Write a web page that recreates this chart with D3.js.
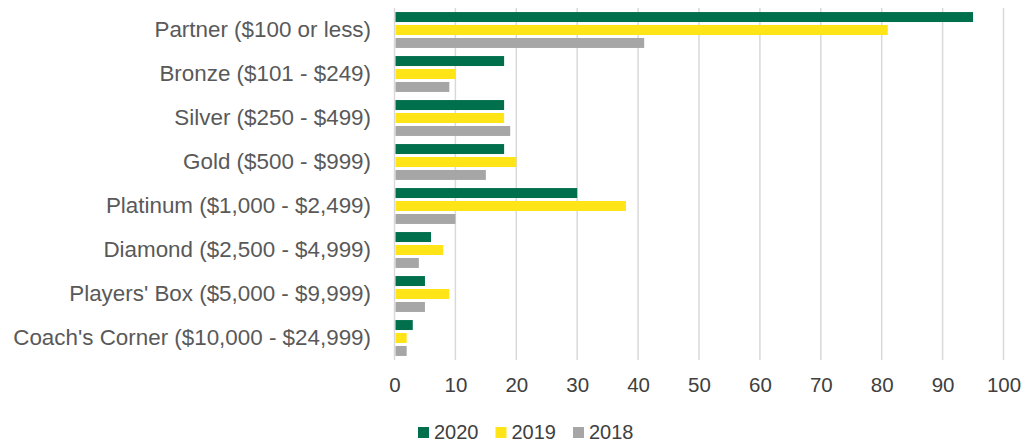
<!DOCTYPE html>
<html>
<head>
<meta charset="utf-8">
<script src="https://cdn.jsdelivr.net/npm/d3@7"></script>
<style>
    body { margin: 0; background: #fff; }
    svg { display: block; font-family: "Liberation Sans", Arial, sans-serif; }
</style>
</head>
<body>
<svg></svg>
<script>
const width = 1031;
const height = 442;

const categories = [
    'Partner ($100 or less)',
    'Bronze ($101 - $249)',
    'Silver ($250 - $499)',
    'Gold ($500 - $999)',
    'Platinum ($1,000 - $2,499)',
    'Diamond ($2,500 - $4,999)',
    "Players' Box ($5,000 - $9,999)",
    "Coach's Corner ($10,000 - $24,999)"
];
const years = ['2020', '2019', '2018'];
const values2020 = [95, 18, 18, 18, 30, 6, 5, 3];
const values2019 = [81, 10, 18, 20, 38, 8, 9, 2];
const values2018 = [41, 9, 19, 15, 10, 4, 5, 2];
const xTicks = [0, 10, 20, 30, 40, 50, 60, 70, 80, 90, 100];
const colors = ['#00704c', '#ffe417', '#a6a6a6'];

let svg = d3.select('svg')
    .attr('width', width)
    .attr('height', height);

let xScale = d3.scaleLinear().domain([0, 100]).range([394.5, 1003.5]);
let yScale = d3.scaleBand().domain(categories).range([8, 360]).paddingInner(0.116).paddingOuter(0.058);
let groupScale = d3.scaleBand().domain(years).range([0, yScale.bandwidth()]);
let colorScale = d3.scaleOrdinal().domain(years).range(colors);

let rows = categories.map((c, i) => ({
    category: c,
    values: [values2020[i], values2019[i], values2018[i]].map((v, j) => ({ year: years[j], value: v }))
}));

// gridlines
svg.append('g')
    .selectAll('line')
    .data(xTicks)
    .enter()
    .append('line')
    .attr('x1', d => xScale(d))
    .attr('x2', d => xScale(d))
    .attr('y1', 8)
    .attr('y2', 360)
    .attr('stroke', '#d9d9d9')
    .attr('stroke-width', 1.5);

// bars
svg.append('g')
    .selectAll('g')
    .data(rows)
    .enter()
    .append('g')
    .attr('transform', d => 'translate(0,' + yScale(d.category) + ')')
    .selectAll('rect')
    .data(d => d.values)
    .enter()
    .append('rect')
    .attr('x', xScale(0) + 1)
    .attr('y', d => groupScale(d.year) + 1.5)
    .attr('width', d => xScale(d.value) - xScale(0) - 1)
    .attr('height', groupScale.bandwidth() - 3)
    .attr('fill', d => colorScale(d.year));

// category axis
let yAxis = d3.axisLeft(yScale).tickSize(0).tickPadding(0);
svg.append('g')
    .attr('transform', 'translate(371,0)')
    .call(yAxis)
    .call(g => g.select('.domain').remove())
    .selectAll('text')
    .attr('font-size', 22.4)
    .attr('font-family', '"Liberation Sans", Arial, sans-serif')
    .attr('fill', '#595959');

// value axis
let xAxis = d3.axisBottom(xScale).tickValues(xTicks).tickSize(0).tickPadding(0);
svg.append('g')
    .attr('transform', 'translate(0,377)')
    .call(xAxis)
    .call(g => g.select('.domain').remove())
    .selectAll('text')
    .attr('font-size', 20.5)
    .attr('font-family', '"Liberation Sans", Arial, sans-serif')
    .attr('fill', '#404040');

// legend
let legend = svg.append('g')
    .attr('transform', 'translate(418,427)')
    .selectAll('g')
    .data(years)
    .enter()
    .append('g')
    .attr('transform', (d, i) => 'translate(' + (i * 77.5) + ',0)');

legend.append('rect')
    .attr('width', 11)
    .attr('height', 11)
    .attr('fill', d => colorScale(d));

legend.append('text')
    .attr('x', 16)
    .attr('y', 12)
    .attr('font-size', 20)
    .attr('fill', '#404040')
    .text(d => d);
</script>
</body>
</html>
